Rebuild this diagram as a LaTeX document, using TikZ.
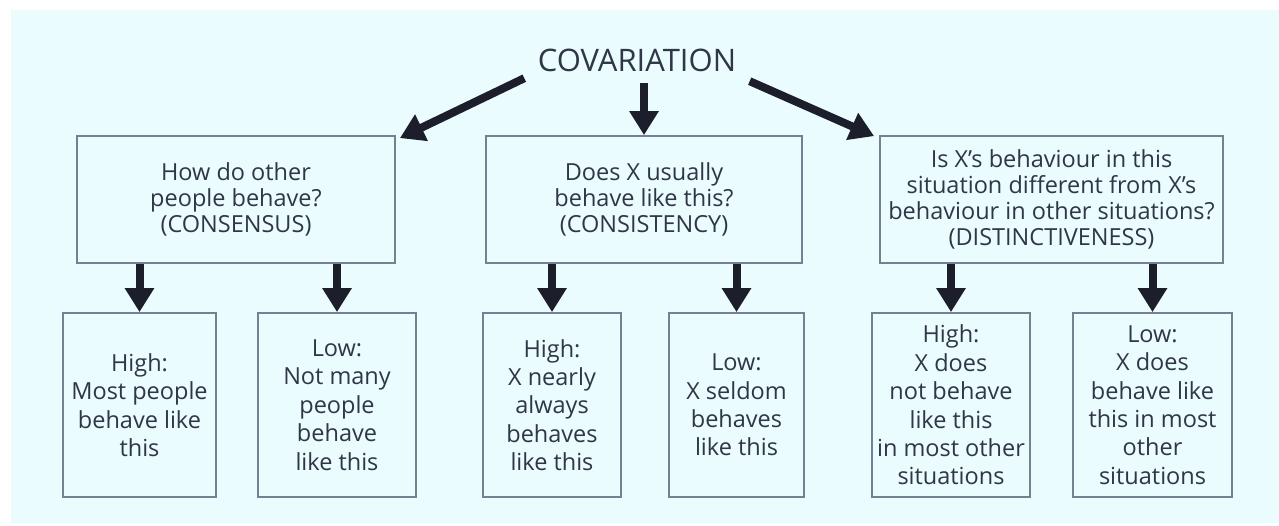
\documentclass[tikz,border=0pt]{standalone}
\usepackage{fontspec}
\setmainfont{Open Sans}
\usetikzlibrary{arrows.meta,calc}
\definecolor{bgc}{RGB}{234,252,253}
\definecolor{boxc}{RGB}{118,128,146}
\definecolor{txtc}{RGB}{48,54,70}
\definecolor{arrc}{RGB}{28,31,43}
\tikzset{
  topbox/.style={draw=boxc, line width=1.8pt, fill=bgc, align=center, inner sep=0pt,
    minimum height=127pt, text=txtc, font=\fontsize{23.5}{26}\selectfont},
  botbox/.style={draw=boxc, line width=1.8pt, fill=bgc, align=center, inner sep=0pt,
    minimum height=184pt, text=txtc, font=\fontsize{23.5}{28.4}\selectfont},
  arr/.style={draw=arrc, line width=8pt, -{Triangle[width=28pt,length=24pt]}},
}
\begin{document}
\begin{tikzpicture}[x=1pt,y=-1pt]
\useasboundingbox (0,0) rectangle (1279,525);
\fill[white] (0,0) rectangle (1279,525);
\fill[bgc] (11,10) rectangle (1279,523);

\node[text=txtc, font=\fontsize{31}{34}\selectfont, minimum width=225pt, minimum height=36pt, inner sep=0pt] (cov) at (637,60) {COVARIATION};

\node[topbox, minimum width=318pt] (q1) at (236,199.5) {How do other\\people behave?\\(CONSENSUS)};
\node[topbox, minimum width=316pt] (q2) at (644,199.5) {Does X usually\\behave like this?\\(CONSISTENCY)};
\node[topbox, minimum width=343pt] (q3) at (1051.5,199.5) {Is X's behaviour in this\\situation different from X's\\behaviour in other situations?\\(DISTINCTIVENESS)};

\node[botbox, minimum width=153pt] (b1) at (139.5,405) {High:\\Most people\\behave like\\this};
\node[botbox, minimum width=158pt] (b2) at (337,405) {Low:\\Not many\\people\\behave\\like this};
\node[botbox, minimum width=138pt] (b3) at (552,405) {High:\\X nearly\\always\\behaves\\like this};
\node[botbox, minimum width=135pt] (b4) at (736.5,405) {Low:\\X seldom\\behaves\\like this};
\node[botbox, minimum width=158pt] (b5) at (951,405) {High:\\X does\\not behave\\like this\\in most other\\situations};
\node[botbox, minimum width=159pt] (b6) at (1152.5,405) {Low:\\X does\\behave like\\this in most\\other\\situations};

\draw[arr] (cov.south west) -- ([xshift=4pt,yshift=-3pt]q1.north east);
\draw[arr, shorten <=5pt] (cov.south -| q2.north) -- (q2.north);
\draw[arr] ([yshift=-3pt]cov.south east) -- ([xshift=-5pt,yshift=-1pt]q3.north west);

\draw[arr] (b1.north |- q1.south) -- (b1.north);
\draw[arr] (b2.north |- q1.south) -- (b2.north);
\draw[arr] (b3.north |- q2.south) -- (b3.north);
\draw[arr] (b4.north |- q2.south) -- (b4.north);
\draw[arr] (b5.north |- q3.south) -- (b5.north);
\draw[arr] (b6.north |- q3.south) -- (b6.north);
\end{tikzpicture}
\end{document}
